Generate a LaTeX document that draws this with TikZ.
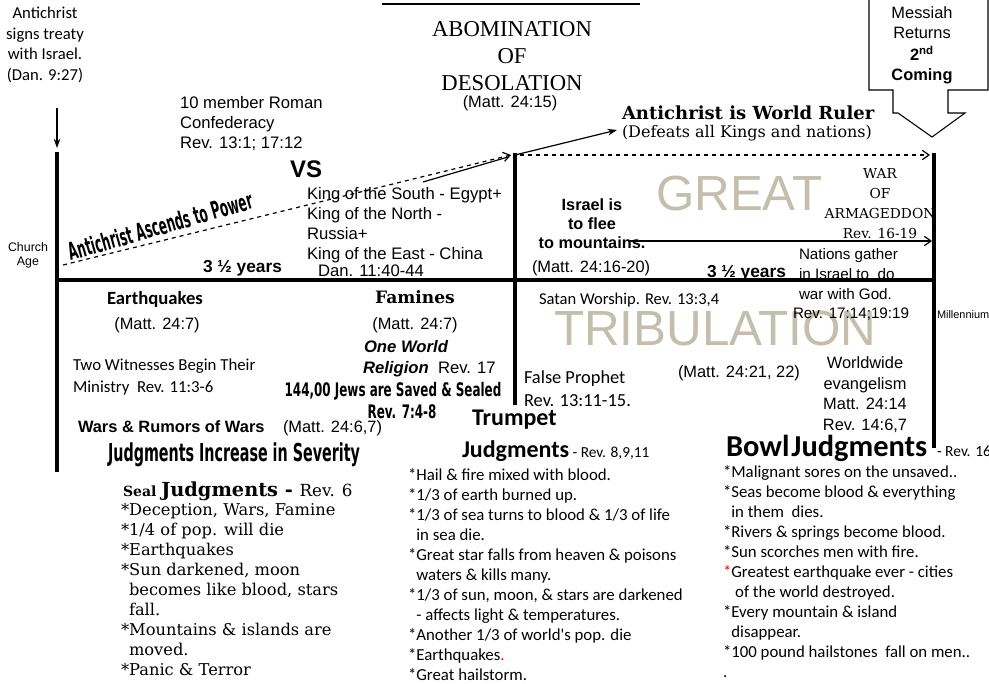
\documentclass[tikz,border=0pt]{standalone}
\usepackage{fontspec}
\setmainfont{Liberation Sans}
\newfontfamily\calf{Carlito}
\newfontfamily\bkf{DejaVu Serif}
\newfontfamily\tmf{Liberation Serif}
\newfontfamily\impf[UprightFont={* Bold},FakeStretch=0.58]{DejaVu Sans}
\newfontfamily\impg[UprightFont={* Bold},FakeStretch=0.64]{DejaVu Sans}
\newfontfamily\imph[UprightFont={* Bold},FakeStretch=0.5]{DejaVu Sans}
\usetikzlibrary{arrows.meta}
\definecolor{bigtxt}{RGB}{196,190,172}
\newcommand\fs[2]{\fontsize{#1}{#2}\selectfont}
\begin{document}
\begin{tikzpicture}[x=0.75pt,y=-0.75pt,
  every node/.style={inner sep=0pt,outer sep=0pt},
  axis/.style={line width=3pt},
  txt/.style={anchor=north west,align=left},
  ctxt/.style={anchor=north,align=center},
  barb/.style={-{Straight Barb[length=5pt,width=7pt]}},
  thin arrow/.style={line width=0.9pt}]
\fill[white] (0,0) rectangle (989,684);
\useasboundingbox (0,0) rectangle (989,684);

% big background words
\node[txt,font=\fs{37}{37},text=bigtxt] (great) at (656,176) {GREAT};
\node[txt,font=\fs{37}{37},text=bigtxt] (trib) at (554,311) {TRIBULATION};

% title underline (title itself is cut off)
\coordinate (tu1) at (382,4.5); \coordinate (tu2) at (640,4.5);
\draw[line width=1.5pt] (tu1) -- (tu2);

% axes
\coordinate (L1) at (57,152); \coordinate (L2) at (57,472);
\coordinate (H1) at (55,280); \coordinate (H2) at (936,280);
\coordinate (M1) at (515,153); \coordinate (M2) at (515,405);
\coordinate (R1) at (934,153); \coordinate (R2) at (934,448);
\draw[axis] (L1) -- (L2);
\draw[axis] (H1) -- (H2);
\draw[axis] (M1) -- (M2);
\draw[axis] (R1) -- (R2);

% Messiah block arrow
\draw[line width=0.8pt,fill=white] (869,-5) -- (869,90) -- (893,90) -- (893,113) -- (898,113) -- (932,137) -- (965,113) -- (948,113) -- (948,90) -- (988,90) -- (988,-5);
\node[ctxt,font=\fs{12.3}{14.8}] (mess) at (922,7) {Messiah\\Returns\\[1.5pt]\textbf{2\textsuperscript{nd}}\\\textbf{Coming}};

% top-left
\node[ctxt,font=\calf\fs{12.5}{15.4}] (sign) at (45,7) {Antichrist\\signs treaty\\with Israel.\\(Dan. 9:27)};
\coordinate (dA) at (57,108); \coordinate (dB) at (57,148);
\draw[thin arrow,-{Stealth[length=7pt,width=5pt]}] (dA) -- (dB);

\node[ctxt,font=\fs{9.3}{10.5}] (church) at (28,243) {Church\\Age};

\node[txt,font=\fs{12.5}{15}] (roman) at (180,96) {10 member Roman\\Confederacy\\Rev. 13:1; 17:12};
\node[txt,font=\bfseries\fs{18}{18}] (vs) at (290,161) {VS};
\node[txt,font=\fs{12.5}{15}] (kings) at (307,187) {King of the South - Egypt+\\King of the North -\\Russia+\\King of the East - China};
\node[txt,font=\fs{12.5}{15}] (dan) at (318,265) {Dan. 11:40-44};

\node[ctxt,font=\tmf\fs{17}{20.3}] (abom) at (512,21) {ABOMINATION\\OF\\DESOLATION};
\node[ctxt,font=\fs{12.3}{15}] (m2415) at (510,96) {(Matt. 24:15)};

\node[txt,font=\bkf\bfseries\fs{13.5}{14}] (ruler) at (622,106) {Antichrist is World Ruler};
\node[txt,font=\bkf\fs{12}{14}] (defeats) at (622,125) {(Defeats all Kings and nations)};

% lines / arrows of the upper part
\coordinate (dsA) at (63,265); \coordinate (dsB) at (511,155);
\draw[thin arrow,dashed,barb] (dsA) -- (dsB);
\coordinate (sA) at (423,182); \coordinate (sB) at (508,157);
\draw[thin arrow] (sA) -- (sB);
\coordinate (apex) at (515,155); \coordinate (rtip) at (617,130);
\draw[thin arrow,-{Stealth[length=7pt,width=5pt]}] (apex) -- (rtip);
\coordinate (dcA) at (520,155); \coordinate (dcB) at (930,155);
\draw[thin arrow,dashed,barb] (dcA) -- (dcB);
\coordinate (arA) at (630,241); \coordinate (arB) at (932,241);
\draw[thin arrow,barb] (arA) -- (arB);

\node[font=\imph\fs{18}{18},rotate=16] (ascend) at (160,226) {Antichrist Ascends to Power};
\node[txt,font=\bfseries\fs{13}{15}] (y1) at (203,260) {3 ½ years};
\node[txt,font=\bfseries\fs{13}{15}] (y2) at (707,265) {3 ½ years};

\node[ctxt,font=\bfseries\fs{12.2}{14.3}] (flee) at (592,199) {Israel is\\to flee\\to mountains.};
\node[txt,font=\fs{12.3}{15}] (m1620) at (532,261) {(Matt. 24:16-20)};

\node[ctxt,font=\bkf\fs{10.3}{15}] (war) at (880,168) {WAR\\OF\\ARMAGEDDON\\Rev. 16-19};
\node[txt,font=\fs{11.4}{15}] (nations) at (799,248) {Nations gather\\in Israel to\ \ do\\war with God.};
\node[txt,font=\fs{11.4}{15}] (rev17) at (793,308) {Rev. 17:14;19:19};
\node[anchor=west,font=\fs{8.2}{9}] (mill) at (937,315) {Millennium};

% lower left
\node[ctxt,font=\calf\bfseries\fs{14}{15}] (eq) at (155,291) {Earthquakes};
\node[ctxt,font=\fs{12.3}{15}] (m247a) at (157,318) {(Matt. 24:7)};
\node[ctxt,font=\bkf\bfseries\fs{12.8}{15}] (fam) at (415,291) {Famines};
\node[ctxt,font=\fs{12.3}{15}] (m247b) at (415,318) {(Matt. 24:7)};
\node[txt,font=\bfseries\itshape\fs{12.5}{15}] (one) at (364,340) {One World};
\node[txt,font=\fs{12.5}{15}] (relig) at (363,361) {\textbf{\textit{Religion}}\ \ Rev. 17};
\node[txt,font=\calf\fs{12.6}{16.5}] (two) at (73,359) {Two Witnesses Begin Their\\Ministry\ \ Rev. 11:3-6};
\node[ctxt,font=\impg\fs{14}{15}] (jews) at (393,382) {144,00 Jews are Saved \& Sealed};
\node[ctxt,font=\impg\fs{14}{15}] (rev748) at (402,405) {Rev. 7:4-8};
\node[txt,font=\bfseries\fs{12.3}{15}] (wars) at (78,421) {Wars \& Rumors of Wars};
\node[txt,font=\fs{12.3}{15}] (m2467) at (283,421) {(Matt. 24:6,7)};
\node[ctxt,font=\impf\fs{18.5}{20}] (jinc) at (234,443) {Judgments Increase in Severity};

% seal judgments
\node[txt] (seal) at (123,482) {\bkf\bfseries\fs{10.5}{14}Seal \fs{14.5}{14}Judgments - \mdseries\fs{12.5}{14}Rev. 6};
\node[txt,font=\bkf\fs{12.2}{15}] (seallist) at (121,503) {*Deception, Wars, Famine\\*1/4 of pop. will die\\*Earthquakes\\*Sun darkened, moon\\\hspace*{6pt}becomes like blood, stars\\\hspace*{6pt}fall.\\*Mountains \& islands are\\\hspace*{6pt}moved.\\*Panic \& Terror};

% right-lower texts
\node[txt,font=\calf\fs{12.4}{15}] (satan) at (539,293) {Satan Worship. Rev. 13:3,4};
\node[txt,font=\calf\fs{13.8}{17}] (false) at (524,371) {False Prophet\\Rev. 13:11-15.};
\node[txt,font=\fs{12.3}{15}] (m2122) at (678,366) {(Matt. 24:21, 22)};
\node[ctxt,font=\fs{12.3}{15.3}] (world) at (865,357) {Worldwide\\evangelism\\Matt. 24:14\\Rev. 14:6,7};

% trumpet judgments
\node[txt,font=\calf\bfseries\fs{18}{20}] (trump) at (472,410) {Trumpet};
\node[txt] (tjudg) at (462,441) {\calf\bfseries\fs{18}{20}Judgments\mdseries\fs{11.5}{13}\ - Rev. 8,9,11};
\node[txt,font=\calf\fs{12.6}{15}] (tlist) at (408,469) {*Hail \& fire mixed with blood.\\*1/3 of earth burned up.\\*1/3 of sea turns to blood \& 1/3 of life\\\phantom{*}in sea die.\\*Great star falls from heaven \& poisons\\\phantom{*}waters \& kills many.\\*1/3 of sun, moon, \& stars are darkened\\\phantom{*}- affects light \& temperatures.\\*Another 1/3 of world's pop. die\\*Earthquakes\textcolor{red}{.}\\*Great hailstorm.};

% bowl judgments
\node[txt,font=\calf\bfseries\fs{22.8}{22}] (bowl) at (726,435) {Bowl\hspace{1.5pt}Judgments};
\node[txt,font=\calf\fs{11.6}{13}] (rev16) at (937,446) {- Rev. 16};
\node[txt,font=\calf\fs{12.6}{15}] (blist) at (723,466) {*Malignant sores on the unsaved..\\*Seas become blood \& everything\\\phantom{*}in them\ \ dies.\\*Rivers \& springs become blood.\\*Sun scorches men with fire.\\\textcolor{red}{*}Greatest earthquake ever - cities\\\phantom{*}\ of the world destroyed.\\*Every mountain \& island\\\phantom{*}disappear.\\*100 pound hailstones\ \ fall on men..\\.};
\end{tikzpicture}
\end{document}
